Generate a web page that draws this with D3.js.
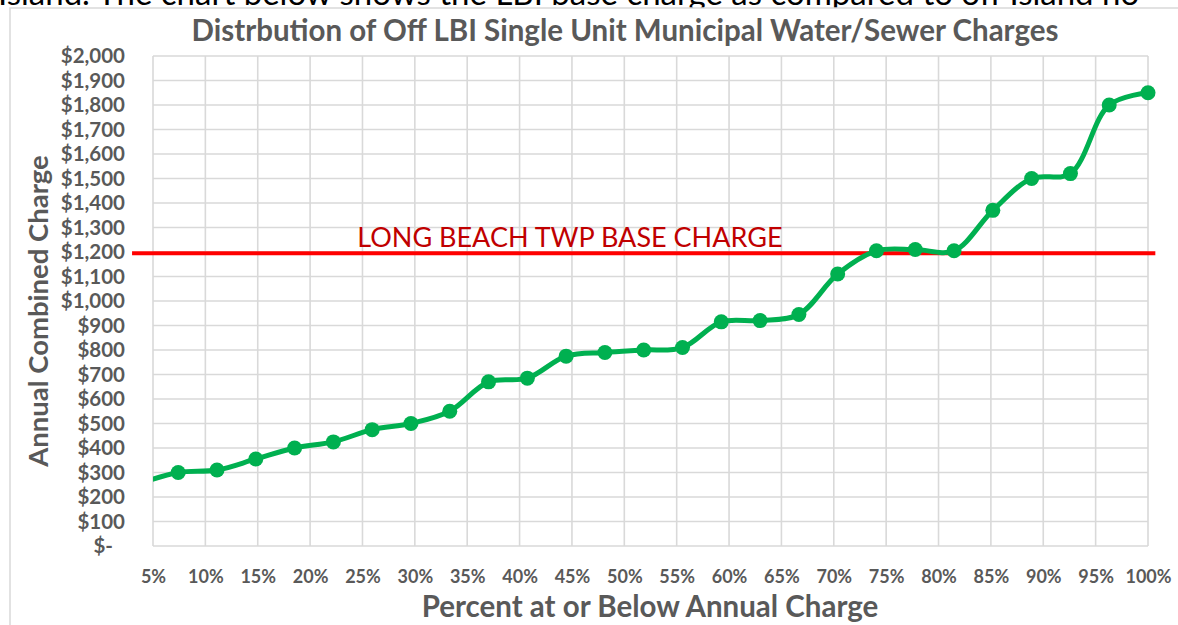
<!DOCTYPE html>
<html>
  <head>
    <meta charset="utf-8" />
    <style>
      body {
        margin: 0;
        background: white;
        overflow: hidden;
      }
      text {
        font-family: Lato, "Open Sans", sans-serif;
      }
      .axis-label {
        font-weight: bold;
        fill: #595959;
      }
    </style>
  </head>

  <body>
    <svg width="1178" height="625"></svg>
  </body>

  <script src="https://d3js.org/d3.v7.min.js"></script>

  <script>
    // share of towns at or below each charge (27 towns, i / 27)
    let percents = [
      1 / 27, 2 / 27, 3 / 27, 4 / 27, 5 / 27, 6 / 27, 7 / 27, 8 / 27, 9 / 27,
      10 / 27, 11 / 27, 12 / 27, 13 / 27, 14 / 27, 15 / 27, 16 / 27, 17 / 27,
      18 / 27, 19 / 27, 20 / 27, 21 / 27, 22 / 27, 23 / 27, 24 / 27, 25 / 27,
      26 / 27, 27 / 27,
    ];
    let charges = [
      255, 300, 310, 355, 400, 425, 475, 500, 550, 670, 685, 775, 790, 800,
      810, 915, 920, 945, 1110, 1205, 1210, 1205, 1370, 1500, 1520, 1800, 1850,
    ];

    let baseCharge = 1195;
    let baseLabel = "LONG BEACH TWP BASE CHARGE";

    let xTicks = [
      0.05, 0.1, 0.15, 0.2, 0.25, 0.3, 0.35, 0.4, 0.45, 0.5, 0.55, 0.6, 0.65,
      0.7, 0.75, 0.8, 0.85, 0.9, 0.95, 1.0,
    ];
    let yTicks = [
      0, 100, 200, 300, 400, 500, 600, 700, 800, 900, 1000, 1100, 1200, 1300,
      1400, 1500, 1600, 1700, 1800, 1900, 2000,
    ];

    let title = "Distrbution of Off LBI Single Unit Municipal Water/Sewer Charges";
    let xTitle = "Percent at or Below Annual Charge";
    let yTitle = "Annual Combined Charge";
    let introText =
      "Island. The chart below shows the LBI base charge as compared to off Island ho";

    let margin = { top: 56, right: 30, bottom: 79, left: 153 };
    let width = 1178;
    let height = 625;

    let svg = d3.select("body").select("svg");

    // document text running above the chart, cut off by the page top
    svg
      .append("text")
      .attr("x", -2)
      .attr("y", 5)
      .style("font-size", "33px")
      .style("fill", "black")
      .text(introText);

    // chart frame
    svg
      .append("rect")
      .attr("x", 10)
      .attr("y", 8)
      .attr("width", 1200)
      .attr("height", 700)
      .style("fill", "white")
      .style("stroke", "#d9d9d9")
      .style("stroke-width", 1.5);

    let x = d3
      .scaleLinear()
      .domain([0.05, 1])
      .range([margin.left, width - margin.right]);

    let y = d3
      .scaleLinear()
      .domain([0, 2000])
      .range([height - margin.bottom, margin.top]);

    // gridlines
    let grid = svg.append("g");
    grid
      .selectAll(".hgrid")
      .data(yTicks)
      .join("line")
      .attr("class", "hgrid")
      .attr("x1", x(0.05))
      .attr("x2", x(1))
      .attr("y1", (d) => y(d))
      .attr("y2", (d) => y(d))
      .style("stroke", "#d9d9d9")
      .style("stroke-width", 1.6);

    grid
      .selectAll(".vgrid")
      .data(xTicks)
      .join("line")
      .attr("class", "vgrid")
      .attr("x1", (d) => x(d))
      .attr("x2", (d) => x(d))
      .attr("y1", y(0))
      .attr("y2", y(2000))
      .style("stroke", "#d9d9d9")
      .style("stroke-width", 1.6);

    // y axis labels (accounting style, zero shows as "$-")
    let yAxisSettings = d3
      .axisLeft(y)
      .tickValues(yTicks)
      .tickSize(0)
      .tickPadding(28)
      .tickFormat((d) => (d == 0 ? "$-" : d3.format("$,")(d)));

    let yAxisTicks = svg
      .append("g")
      .attr("transform", `translate(${margin.left}, 0)`)
      .call(yAxisSettings);
    yAxisTicks.select(".domain").remove();
    yAxisTicks
      .selectAll("text")
      .attr("class", "axis-label")
      .style("font-size", "20.5px")
      .style("font-family", "Lato, sans-serif")
      .attr("dx", (d) => (d == 0 ? -12 : 0));

    // x axis labels
    let xAxisSettings = d3
      .axisBottom(x)
      .tickValues(xTicks)
      .tickSize(0)
      .tickPadding(24)
      .tickFormat(d3.format(".0%"));

    let xAxisTicks = svg
      .append("g")
      .attr("transform", `translate(0, ${y(0)})`)
      .call(xAxisSettings);
    xAxisTicks.select(".domain").remove();
    xAxisTicks
      .selectAll("text")
      .attr("class", "axis-label")
      .style("font-size", "18px")
      .style("font-family", "Lato, sans-serif");

    // titles
    svg
      .append("text")
      .attr("class", "axis-label")
      .attr("x", 625)
      .attr("y", 41)
      .attr("text-anchor", "middle")
      .style("font-size", "29.5px")
      .text(title);

    svg
      .append("text")
      .attr("class", "axis-label")
      .attr("x", 650)
      .attr("y", 617)
      .attr("text-anchor", "middle")
      .style("font-size", "29.5px")
      .text(xTitle);

    svg
      .append("text")
      .attr("class", "axis-label")
      .attr("transform", "translate(48, 311) rotate(-90)")
      .attr("text-anchor", "middle")
      .style("font-size", "27.5px")
      .text(yTitle);

    // base charge reference line, drawn a bit past the plot edges
    svg
      .append("line")
      .attr("x1", x(0.03))
      .attr("x2", x(1.007))
      .attr("y1", y(baseCharge))
      .attr("y2", y(baseCharge))
      .style("stroke", "#ff0000")
      .style("stroke-width", 4);

    svg
      .append("text")
      .attr("x", x(0.245))
      .attr("y", y(baseCharge))
      .attr("dy", -6)
      .style("font-size", "27px")
      .style("fill", "#c00000")
      .text(baseLabel);

    // green series, clipped to the plot area
    svg
      .append("clipPath")
      .attr("id", "plot-clip")
      .append("rect")
      .attr("x", x(0.05))
      .attr("y", 0)
      .attr("width", x(1) - x(0.05) + 20)
      .attr("height", height);

    let points = percents.map((p, i) => ({ p: p, v: charges[i] }));

    let line = d3
      .line()
      .x((d) => x(d.p))
      .y((d) => y(d.v))
      .curve(d3.curveCatmullRom.alpha(0.5));

    let series = svg.append("g").attr("clip-path", "url(#plot-clip)");

    series
      .append("path")
      .datum(points)
      .attr("d", line)
      .style("fill", "none")
      .style("stroke", "#00b050")
      .style("stroke-width", 5)
      .style("stroke-linejoin", "round");

    series
      .selectAll(".dot")
      .data(points.filter((d) => d.p >= 0.05))
      .join("circle")
      .attr("class", "dot")
      .attr("cx", (d) => x(d.p))
      .attr("cy", (d) => y(d.v))
      .attr("r", 7.5)
      .style("fill", "#00b050");
  </script>
</html>
